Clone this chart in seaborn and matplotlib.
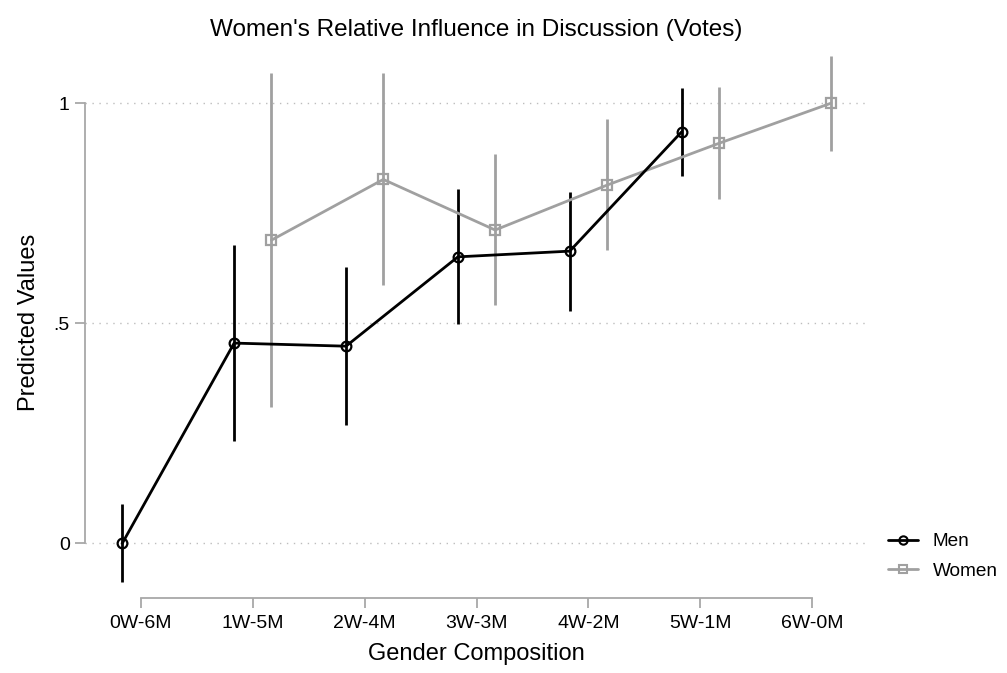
import matplotlib
matplotlib.use("Agg")
import matplotlib.pyplot as plt
from matplotlib.lines import Line2D
import seaborn as sns
import pandas as pd

# Gender composition of the six-member groups
compositions = ["0W-6M", "1W-5M", "2W-4M", "3W-3M", "4W-2M", "5W-1M", "6W-0M"]

# Predicted values with 95% confidence bounds
men_comp = ["0W-6M", "1W-5M", "2W-4M", "3W-3M", "4W-2M", "5W-1M"]
men_est = [0.000, 0.455, 0.448, 0.651, 0.664, 0.935]
men_lo = [-0.089, 0.233, 0.269, 0.498, 0.527, 0.835]
men_hi = [0.089, 0.678, 0.627, 0.805, 0.799, 1.034]

women_comp = ["1W-5M", "2W-4M", "3W-3M", "4W-2M", "5W-1M", "6W-0M"]
women_est = [0.689, 0.827, 0.712, 0.814, 0.909, 1.000]
women_lo = [0.310, 0.587, 0.542, 0.666, 0.783, 0.892]
women_hi = [1.070, 1.070, 0.884, 0.964, 1.036, 1.107]

y_ticks = [0, 0.5, 1]
y_tick_labels = ["0", ".5", "1"]

df = pd.concat([
    pd.DataFrame({"composition": men_comp, "group": "Men",
                  "estimate": men_est, "lower": men_lo, "upper": men_hi}),
    pd.DataFrame({"composition": women_comp, "group": "Women",
                  "estimate": women_est, "lower": women_lo, "upper": women_hi}),
], ignore_index=True)

# Dodge the two groups around each category position
dodge = {"Men": -1 / 6, "Women": 1 / 6}
df["x"] = df["composition"].map({c: i for i, c in enumerate(compositions)}) + df["group"].map(dodge)

sns.set_theme(style="white")
plt.rcParams["font.family"] = ["Liberation Sans", "DejaVu Sans"]
plt.rcParams["text.color"] = "black"
plt.rcParams["axes.labelcolor"] = "black"

colors = {"Men": "#000000", "Women": "#a0a0a0"}
markers = {"Men": "o", "Women": "s"}

fig = plt.figure(figsize=(10.07, 6.73), dpi=100)
ax = fig.add_axes([0.0844, 0.111, 0.7776, 0.8205])

# Horizontal dotted reference lines
for yv in y_ticks:
    ax.axhline(yv, color="#bdbdbd", lw=1.0, ls=(0, (1, 4)), zorder=0)

# Confidence intervals
for grp, z in [("Women", 2), ("Men", 3)]:
    sub = df[df["group"] == grp]
    ax.vlines(sub["x"], sub["lower"], sub["upper"], color=colors[grp], lw=2.0, zorder=z)

sns.lineplot(data=df, x="x", y="estimate", hue="group", style="group",
             palette=colors, markers=markers, dashes=False, lw=2.0,
             markersize=7, markerfacecolor="none", markeredgewidth=1.6,
             ax=ax, legend=False, sort=True, estimator=None)
for line, grp in zip(ax.lines[-2:], ["Men", "Women"]):
    line.set_markeredgecolor(colors[grp])
    line.set_zorder(5 if grp == "Men" else 4)

ax.set_xlim(-0.5, 6.5)
ax.set_ylim(-0.125, 1.13)
ax.set_xticks(range(len(compositions)))
ax.set_xticklabels(compositions, fontsize=14)
ax.set_yticks(y_ticks)
ax.set_yticklabels(y_tick_labels, fontsize=14)

for side in ["top", "right"]:
    ax.spines[side].set_visible(False)
ax.spines["left"].set_bounds(0, 1)
ax.spines["bottom"].set_bounds(0, 6)
for side in ["left", "bottom"]:
    ax.spines[side].set_color("#a8a8a8")
    ax.spines[side].set_linewidth(1.3)
ax.tick_params(axis="x", which="major", length=7, width=1.3, color="#a8a8a8",
               labelcolor="black", bottom=True, pad=5)
ax.tick_params(axis="y", which="major", length=7, width=1.3, color="#a8a8a8",
               labelcolor="black", left=True, pad=4)

ax.set_xlabel("Gender Composition", fontsize=17, labelpad=8, color="black")
ax.set_ylabel("Predicted Values", fontsize=17, labelpad=10, color="black")
ax.set_title("Women's Relative Influence in Discussion (Votes)", fontsize=17.5, pad=7,
             color="black")

handles = [Line2D([], [], color=colors[g], marker=markers[g], markerfacecolor="none",
                  markeredgecolor=colors[g], markersize=6,
                  lw=2.0, markeredgewidth=1.5)
           for g in ["Men", "Women"]]
fig.legend(handles, ["Men", "Women"], loc="upper left",
           bbox_to_anchor=(0.8645, 1 - 516 / 673), frameon=False, fontsize=13.7,
           handlelength=1.58, handletextpad=0.8, labelspacing=0.63,
           labelcolor="black")

fig.savefig("out.png", dpi=100)
